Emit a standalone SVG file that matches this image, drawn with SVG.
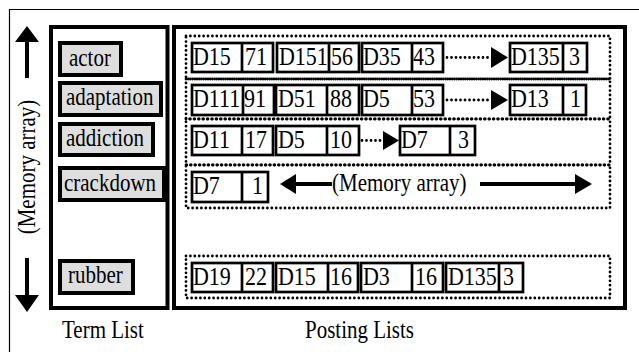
<svg xmlns="http://www.w3.org/2000/svg" width="639" height="352" viewBox="0 0 639 352" font-family="'Liberation Serif', 'Times New Roman', serif">
  <style>
    text { font-family: "Liberation Serif", "Times New Roman", serif; font-size: 22px; fill: #000; }
    .lbl { font-size: 21px; }
    .frame { fill: none; stroke: #000; stroke-width: 1.2; }
    .panel { fill: #fff; stroke: #000; stroke-width: 4; }
    .term rect { fill: #dedede; stroke: #000; stroke-width: 4; }
    .row { fill: none; stroke: #000; stroke-width: 2.8; stroke-dasharray: 0 4.4; stroke-linecap: round; }
    .cell rect, .cell line { fill: #fff; stroke: #000; stroke-width: 2.7; }
    .dots { fill: none; stroke: #000; stroke-width: 2.8; stroke-dasharray: 0 4.5; stroke-linecap: round; }
    .shaft { stroke: #000; stroke-width: 4; fill: none; }
    .head { fill: #000; }
  </style>

  <!-- outer frame -->
  <path class="frame" d="M9.5,352 V9.5 H639"/>

  <!-- panels -->
  <rect id="term-list" class="panel" x="51" y="27" width="116.5" height="281"/>
  <rect id="posting-lists" class="panel" x="174" y="27" width="451" height="281"/>

  <!-- memory direction, vertical -->
  <g id="memory-vertical">
    <polygon class="head" points="27,26 39,42 15,42"/>
    <line class="shaft" x1="27" y1="41" x2="27" y2="78"/>
    <line class="shaft" x1="27" y1="258" x2="27" y2="296"/>
    <polygon class="head" points="15,295 39,295 27,312"/>
    <text class="lbl" transform="translate(35 167) rotate(-90) scale(1 1.15)" text-anchor="middle">(Memory array)</text>
  </g>

  <!-- term list entries -->
  <g id="term-actor" class="term"><rect x="60" y="43" width="61" height="32"/><text class="lbl" transform="matrix(1 0 0 1.15 69 66)">actor</text></g>
  <g id="term-adaptation" class="term"><rect x="60" y="83" width="101" height="32"/><text class="lbl" transform="matrix(1 0 0 1.15 66 105)">adaptation</text></g>
  <g id="term-addiction" class="term"><rect x="60" y="124" width="93" height="31"/><text class="lbl" transform="matrix(1 0 0 1.15 66 146)">addiction</text></g>
  <g id="term-crackdown" class="term"><rect x="60" y="168" width="104" height="32"/><text class="lbl" transform="matrix(1 0 0 1.15 64 191)">crackdown</text></g>
  <g id="term-rubber" class="term"><rect x="60" y="261" width="73" height="32"/><text class="lbl" transform="matrix(1 0 0 1.15 68 283)">rubber</text></g>

  <!-- posting list rows (dotted) -->
  <g id="rows">
    <rect class="row" x="186" y="36" width="424" height="43"/>
    <rect class="row" x="186" y="79" width="424" height="40"/>
    <rect class="row" x="186" y="119" width="424" height="46"/>
    <rect class="row" x="186" y="165" width="424" height="43"/>
    <rect class="row" x="186" y="256" width="424" height="42"/>
  </g>

  <!-- row: actor -->
  <g id="post-actor-1" class="cell"><rect x="192" y="43" width="81" height="29"/><line x1="242" y1="43" x2="242" y2="72"/><text transform="matrix(1 0 0 1.15 193 65)">D15</text><text transform="matrix(1 0 0 1.15 245 65)">71</text></g>
  <g id="post-actor-2" class="cell"><rect x="277" y="43" width="82" height="29"/><line x1="329" y1="43" x2="329" y2="72"/><text transform="matrix(1 0 0 1.15 279 65)">D151</text><text transform="matrix(1 0 0 1.15 331 65)">56</text></g>
  <g id="post-actor-3" class="cell"><rect x="362" y="43" width="81" height="29"/><line x1="412" y1="43" x2="412" y2="72"/><text transform="matrix(1 0 0 1.15 363 65)">D35</text><text transform="matrix(1 0 0 1.15 413 65)">43</text></g>
  <g id="post-actor-4" class="cell"><rect x="510" y="43" width="77" height="29"/><line x1="563" y1="43" x2="563" y2="72"/><text transform="matrix(1 0 0 1.15 511 65)">D135</text><text transform="matrix(1 0 0 1.15 569 65)">3</text></g>

  <!-- row: adaptation -->
  <g id="post-adaptation-1" class="cell"><rect x="192" y="85" width="82" height="30"/><line x1="243" y1="85" x2="243" y2="115"/><text transform="matrix(1 0 0 1.15 193 107)">D111</text><text transform="matrix(1 0 0 1.15 244 107)">91</text></g>
  <g id="post-adaptation-2" class="cell"><rect x="276" y="85" width="83" height="30"/><line x1="327" y1="85" x2="327" y2="115"/><text transform="matrix(1 0 0 1.15 278 107)">D51</text><text transform="matrix(1 0 0 1.15 330 107)">88</text></g>
  <g id="post-adaptation-3" class="cell"><rect x="362" y="85" width="81" height="30"/><line x1="412" y1="85" x2="412" y2="115"/><text transform="matrix(1 0 0 1.15 363 107)">D5</text><text transform="matrix(1 0 0 1.15 413 107)">53</text></g>
  <g id="post-adaptation-4" class="cell"><rect x="510" y="85" width="76" height="30"/><line x1="563" y1="85" x2="563" y2="115"/><text transform="matrix(1 0 0 1.15 511 107)">D13</text><text transform="matrix(1 0 0 1.15 570 107)">1</text></g>

  <!-- row: addiction -->
  <g id="post-addiction-1" class="cell"><rect x="192" y="126" width="81" height="29"/><line x1="242" y1="126" x2="242" y2="155"/><text transform="matrix(1 0 0 1.15 193 148)">D11</text><text transform="matrix(1 0 0 1.15 245 148)">17</text></g>
  <g id="post-addiction-2" class="cell"><rect x="276" y="126" width="83" height="29"/><line x1="327" y1="126" x2="327" y2="155"/><text transform="matrix(1 0 0 1.15 278 148)">D5</text><text transform="matrix(1 0 0 1.15 330 148)">10</text></g>
  <g id="post-addiction-3" class="cell"><rect x="400" y="126" width="75" height="29"/><line x1="450" y1="126" x2="450" y2="155"/><text transform="matrix(1 0 0 1.15 401 148)">D7</text><text transform="matrix(1 0 0 1.15 458 148)">3</text></g>

  <!-- row: crackdown -->
  <g id="post-crackdown-1" class="cell"><rect x="192" y="172" width="76" height="30"/><line x1="242" y1="172" x2="242" y2="202"/><text transform="matrix(1 0 0 1.15 193 194)">D7</text><text transform="matrix(1 0 0 1.15 252 194)">1</text></g>

  <!-- row: rubber -->
  <g id="post-rubber-1" class="cell"><rect x="192" y="263" width="81" height="29"/><line x1="242" y1="263" x2="242" y2="292"/><text transform="matrix(1 0 0 1.15 193 285)">D19</text><text transform="matrix(1 0 0 1.15 245 285)">22</text></g>
  <g id="post-rubber-2" class="cell"><rect x="276" y="263" width="82" height="29"/><line x1="328" y1="263" x2="328" y2="292"/><text transform="matrix(1 0 0 1.15 278 285)">D15</text><text transform="matrix(1 0 0 1.15 330 285)">16</text></g>
  <g id="post-rubber-3" class="cell"><rect x="361" y="263" width="82" height="29"/><line x1="412" y1="263" x2="412" y2="292"/><text transform="matrix(1 0 0 1.15 363 285)">D3</text><text transform="matrix(1 0 0 1.15 415 285)">16</text></g>
  <g id="post-rubber-4" class="cell"><rect x="446" y="263" width="77" height="29"/><line x1="499" y1="263" x2="499" y2="292"/><text transform="matrix(1 0 0 1.15 448 285)">D135</text><text transform="matrix(1 0 0 1.15 503 285)">3</text></g>

  <!-- connectors -->
  <g id="connectors">
    <line class="dots" x1="447" y1="57.5" x2="489" y2="57.5"/>
    <polygon class="head" points="491,47 508,57.5 491,68"/>
    <line class="dots" x1="447" y1="100" x2="489" y2="100"/>
    <polygon class="head" points="491,90 508,100 491,110"/>
    <line class="dots" x1="362" y1="140.5" x2="381" y2="140.5"/>
    <polygon class="head" points="383,131 399,140.5 383,150"/>
  </g>

  <!-- memory direction, horizontal -->
  <g id="memory-horizontal">
    <polygon class="head" points="280,184 296,174 296,194"/>
    <line class="shaft" x1="295" y1="184" x2="332" y2="184"/>
    <text class="lbl" transform="matrix(1 0 0 1.15 332 191)">(Memory array)</text>
    <line class="shaft" x1="480" y1="184" x2="577" y2="184"/>
    <polygon class="head" points="575,174 592,184 575,194"/>
  </g>

  <!-- captions -->
  <text class="lbl" transform="matrix(1 0 0 1.15 62 338)">Term List</text>
  <text class="lbl" transform="matrix(1 0 0 1.15 305 338)">Posting Lists</text>
</svg>
